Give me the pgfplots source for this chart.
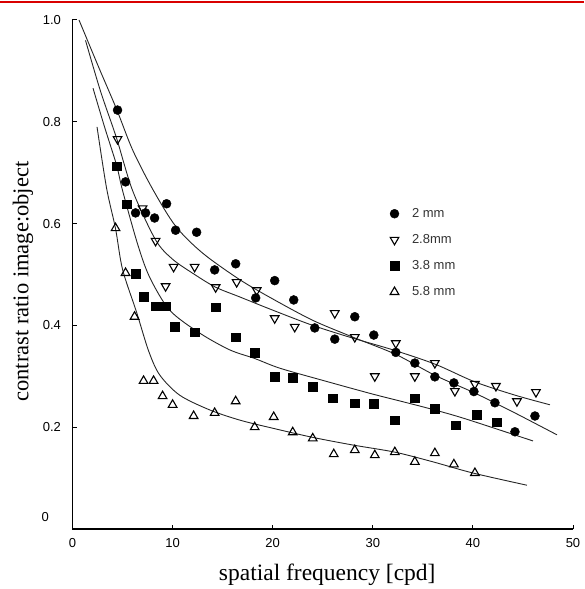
\documentclass[border=0pt]{standalone}
\usepackage{fontspec}
\setmainfont{Liberation Serif}
\newfontfamily\tickfont{Liberation Sans}
\usepackage{pgfplots}
\pgfplotsset{compat=1.18}
\begin{document}
\begin{tikzpicture}
\begin{axis}[
  scale only axis, width=500.5pt, height=509pt,
  at={(0pt,0pt)}, anchor=south west,
  xmin=0, xmax=50, ymin=0, ymax=1,
  axis x line=bottom, axis y line=left,
  axis line style={-, line width=1.2pt},
  tick align=inside, major tick length=4pt,
  tick style={line width=1pt, black},
  xtick={0,10,20,30,40,50},
  ytick={0.2,0.4,0.6,0.8,1.0},
  /pgf/number format/assume math mode=true,
  tick label style={font=\tickfont\fontsize{13}{15}\selectfont},
  yticklabel style={/pgf/number format/fixed, /pgf/number format/fixed zerofill, /pgf/number format/precision=1, xshift=-8pt},
  xticklabel style={yshift=-6pt},
  extra y ticks={0}, extra y tick labels={0},
  extra y tick style={yticklabel style={xshift=-12pt, yshift=12pt}},
  xlabel={spatial frequency [cpd]},
  ylabel={contrast ratio image:object},
  every axis x label/.style={at={(axis description cs:0.509,0)}, anchor=base, yshift=-51pt, font=\fontsize{23.5}{27}\selectfont},
  every axis y label/.style={at={(axis description cs:-0.099,0.486)}, anchor=center, rotate=90, font=\fontsize{22.5}{26}\selectfont},
  legend style={draw=none, fill=none, at={(axis cs:31.4,0.638)}, anchor=north west,
    font=\tickfont\fontsize{13}{15}\selectfont, text=black!80, row sep=11.5pt,
    /tikz/every odd column/.append style={column sep=11pt}},
  legend cell align=left,
]
% fitted curves
\addplot[smooth, no markers, line width=0.9pt, black!85, forget plot] coordinates {
(0.65,1.0) (2.6,0.908) (4.4,0.825) (6,0.745) (8,0.668) (10.3,0.595) (13,0.542) (16.7,0.49) (20,0.452) (24,0.41) (28,0.377) (32.3,0.343) (36.2,0.302) (40.2,0.267) (44.2,0.228) (48.4,0.185)};
\addplot[smooth, no markers, line width=0.9pt, black!85, forget plot] coordinates {
(1.3,0.96) (2.8,0.86) (4.4,0.768) (6,0.665) (8.3,0.568) (10,0.53) (12.2,0.5) (14.3,0.475) (16.7,0.456) (20,0.43) (24,0.4) (28,0.375) (32,0.352) (36.2,0.324) (40.2,0.289) (44.2,0.263) (47.7,0.244)};
\addplot[smooth, no markers, line width=0.9pt, black!85, forget plot] coordinates {
(2.05,0.866) (3.2,0.79) (4.4,0.715) (5.0,0.665) (6.5,0.56) (7.7,0.495) (9.7,0.43) (12.7,0.385) (15.7,0.352) (18.2,0.335) (20.7,0.316) (25,0.292) (30,0.265) (35,0.24) (39,0.218) (46,0.173)};
\addplot[smooth, no markers, line width=0.9pt, black!85, forget plot] coordinates {
(2.45,0.79) (3.4,0.67) (4.3,0.59) (5.0,0.51) (6.4,0.426) (7.6,0.35) (8.7,0.303) (10.7,0.263) (13.7,0.234) (16.7,0.214) (20,0.198) (24,0.18) (28,0.165) (32.2,0.151) (36,0.132) (40,0.11) (45.4,0.086)};
% data
\addplot[only marks, mark=*, mark size=4.5pt, black] coordinates {
(4.5,0.823) (5.3,0.682) (6.3,0.621) (7.3,0.621) (8.2,0.611) (9.4,0.639) (10.3,0.587) (12.4,0.583) (14.2,0.509) (16.3,0.521) (18.3,0.454) (20.2,0.488) (22.1,0.45) (24.2,0.395) (26.2,0.373) (28.2,0.417) (30.1,0.381) (32.3,0.347) (34.2,0.326) (36.2,0.299) (38.1,0.287) (40.1,0.270) (42.2,0.248) (44.2,0.191) (46.2,0.222)};
\addlegendentry{2 mm}
\addplot[only marks, mark=triangle, mark size=5pt, mark options={rotate=180, line width=1.1pt, fill=white}, black] coordinates {
(4.5,0.766) (7.0,0.63) (8.3,0.566) (9.3,0.477) (10.1,0.515) (12.2,0.515) (14.3,0.475) (16.4,0.485) (18.4,0.469) (20.2,0.414) (22.2,0.397) (26.2,0.424) (28.2,0.377) (30.2,0.300) (32.3,0.365) (34.2,0.300) (36.2,0.326) (38.2,0.271) (40.2,0.285) (42.3,0.281) (44.4,0.251) (46.3,0.269)};
\addlegendentry{2.8mm}
\addplot[only marks, mark=square*, mark size=4.3pt, black] coordinates {
(4.4,0.713) (5.4,0.638) (6.3,0.501) (7.1,0.456) (8.3,0.438) (9.3,0.438) (10.2,0.397) (12.2,0.387) (14.3,0.436) (16.3,0.377) (18.2,0.346) (20.2,0.299) (22.0,0.297) (24.0,0.279) (26.0,0.257) (28.2,0.247) (30.1,0.246) (32.2,0.214) (34.2,0.257) (36.2,0.236) (38.3,0.204) (40.4,0.224) (42.4,0.210)};
\addlegendentry{3.8 mm}
\addplot[only marks, mark=triangle, mark size=5pt, mark options={line width=1.1pt, fill=white}, black] coordinates {
(4.3,0.591) (5.3,0.503) (6.2,0.417) (7.1,0.291) (8.1,0.291) (9.0,0.261) (10.0,0.244) (12.1,0.222) (14.2,0.228) (16.3,0.251) (18.2,0.200) (20.1,0.220) (22.0,0.190) (24.0,0.178) (26.1,0.147) (28.2,0.155) (30.2,0.145) (32.2,0.151) (34.2,0.132) (36.2,0.149) (38.1,0.127) (40.2,0.110)};
\addlegendentry{5.8 mm}
\end{axis}
\draw[red!85!black, line width=2pt] (-72.5pt,527pt) -- (511.5pt,527pt);
\pgfresetboundingbox
\path (-72.5pt,-60pt) rectangle (511.5pt,529pt);
\end{tikzpicture}
\end{document}
